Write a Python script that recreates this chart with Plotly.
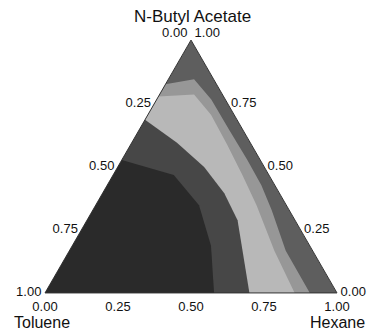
import plotly.graph_objects as go

# ---- data (ternary fractions: a = N-Butyl Acetate, b = Toluene, c = Hexane) ----
corner_titles = ["N-Butyl Acetate", "Toluene", "Hexane"]

# tick values
toluene_ticks = [0.0, 0.25, 0.5, 0.75, 1.0]      # left edge
butyl_ticks = [1.0, 0.75, 0.5, 0.25, 0.0]        # right edge
hexane_ticks = [0.0, 0.25, 0.5, 0.75, 1.0]       # bottom edge

# band boundaries (each runs from left edge to bottom edge)
light_outer_a = [0.825, 0.845, 0.765, 0.645, 0.526, 0.426, 0.327, 0.167, 0.0]
light_outer_b = [0.175, 0.067, 0.048, 0.047, 0.044, 0.046, 0.060, 0.092, 0.093]

lightest_a = [0.777, 0.785, 0.705, 0.586, 0.466, 0.347, 0.167, 0.0]
lightest_b = [0.223, 0.097, 0.079, 0.083, 0.091, 0.102, 0.131, 0.145]

meddark_a = [0.685, 0.594, 0.498, 0.394, 0.287, 0.167, 0.0]
meddark_b = [0.315, 0.251, 0.206, 0.189, 0.197, 0.240, 0.300]

core_a = [0.526, 0.466, 0.347, 0.187, 0.0]
core_b = [0.474, 0.326, 0.299, 0.338, 0.421]

band_colors = ["#5e5e5e", "#979797", "#b8b8b8", "#474747", "#2a2a2a"]

fig = go.Figure()

def add_poly(a, b, color):
    c = [round(1 - x - y, 4) for x, y in zip(a, b)]
    fig.add_trace(go.Scatterternary(
        a=a, b=b, c=c, mode="lines", fill="toself", fillcolor=color,
        line=dict(width=0, color=color), hoverinfo="skip", showlegend=False))

# whole triangle
add_poly([1, 0, 0, 1], [0, 1, 0, 0], band_colors[0])
# bands closed through the Toluene corner
for (aa, bb), col in zip([(light_outer_a, light_outer_b), (lightest_a, lightest_b),
                          (meddark_a, meddark_b), (core_a, core_b)], band_colors[1:]):
    add_poly(aa + [0.0, aa[0]], bb + [1.0, bb[0]], col)

fmt = lambda v: f"{v:.2f}"
tick_font = dict(family="Liberation Sans, Arial, sans-serif", size=13, color="#111")
ghost = dict(size=1, color="rgba(0,0,0,0)")

# left edge: toluene values
fig.add_trace(go.Scatterternary(
    a=[1 - t for t in toluene_ticks], b=toluene_ticks, c=[0] * len(toluene_ticks),
    mode="text", text=[fmt(t) + " " for t in toluene_ticks],
    textposition=["top left"] + ["middle left"] * (len(toluene_ticks) - 1),
    textfont=tick_font, cliponaxis=False, hoverinfo="skip", showlegend=False))
# right edge: n-butyl acetate values
fig.add_trace(go.Scatterternary(
    a=butyl_ticks, b=[0] * len(butyl_ticks), c=[1 - t for t in butyl_ticks],
    mode="text", text=[" " + fmt(t) for t in butyl_ticks],
    textposition=["top right"] + ["middle right"] * (len(butyl_ticks) - 1),
    textfont=tick_font, cliponaxis=False, hoverinfo="skip", showlegend=False))
# bottom edge: hexane values
fig.add_trace(go.Scatterternary(
    a=[0] * len(hexane_ticks), b=[1 - t for t in hexane_ticks], c=hexane_ticks,
    mode="markers+text", marker=dict(size=12, color="rgba(0,0,0,0)"),
    text=[fmt(t) for t in hexane_ticks], textposition="bottom center",
    textfont=tick_font, cliponaxis=False, hoverinfo="skip", showlegend=False))

L, R, T, B = 45, 33, 39, 36
ax = dict(showticklabels=False, showgrid=False, ticks="", showline=True,
          linecolor="#333", linewidth=1, title=dict(text=""))
fig.update_layout(
    width=370, height=330,
    margin=dict(l=L, r=R, t=T, b=B),
    paper_bgcolor="white",
    ternary=dict(sum=1, bgcolor="white", aaxis=ax, baxis=ax, caxis=ax),
    showlegend=False,
    font=dict(family="Liberation Sans, Arial, sans-serif", color="#111"),
)

pw, ph = 370 - L - R, 330 - T - B
def px(xp):
    return (xp - L) / pw
def py(yp):
    return (330 - B - yp) / ph
fig.add_annotation(text=corner_titles[0], x=px(192), y=py(16), xref="paper", yref="paper",
                   showarrow=False, font=dict(size=17), xanchor="center", yanchor="middle")
fig.add_annotation(text=corner_titles[1], x=px(12), y=py(322), xref="paper", yref="paper",
                   showarrow=False, font=dict(size=16), xanchor="left", yanchor="middle")
fig.add_annotation(text=corner_titles[2], x=px(367), y=py(322), xref="paper", yref="paper",
                   showarrow=False, font=dict(size=16), xanchor="right", yanchor="middle")

fig.write_html("out.html", config={"displayModeBar": False},
               post_script="document.body.style.margin='0';document.body.style.overflow='hidden';")
